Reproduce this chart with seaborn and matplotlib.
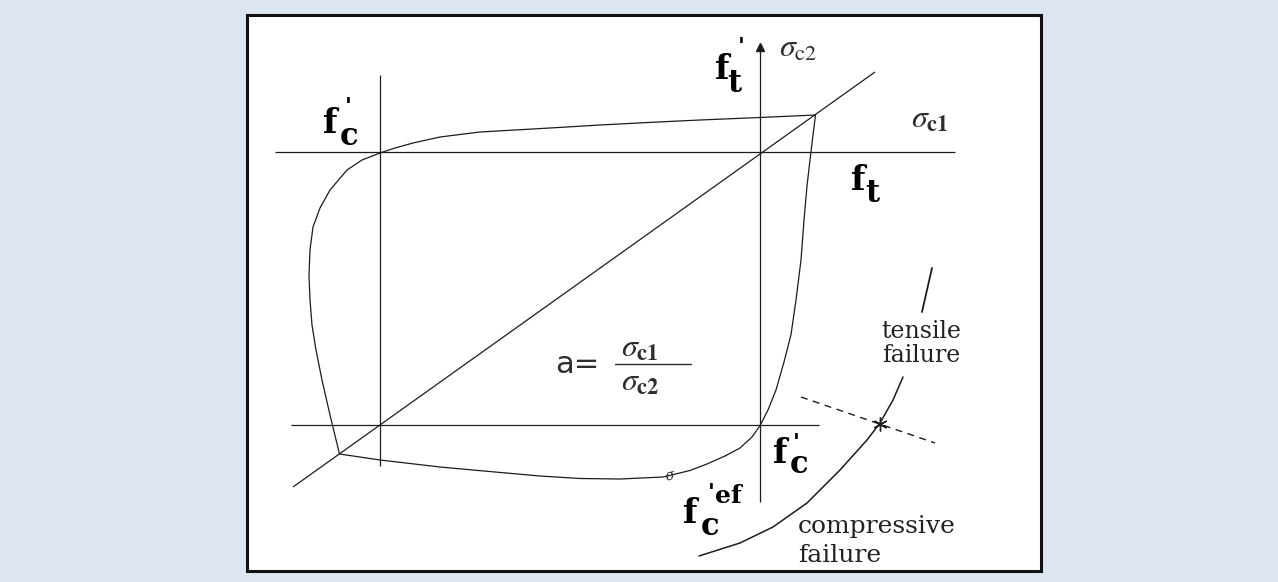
import matplotlib
matplotlib.use("Agg")
import matplotlib.pyplot as plt
import matplotlib.patches as mpatches
import numpy as np
import pandas as pd
import seaborn as sns

# Biaxial failure envelope of concrete (diagram units, y grows downward)
envelope_x = [815.5, 760, 700, 648, 600, 550, 480, 440, 413, 395, 380, 362, 347, 330,
              320, 313, 310, 309, 310, 312, 316, 322, 330, 339.5,
              380, 440, 495, 540, 580, 620, 663, 690, 707, 725, 740, 752, 760,
              768, 776, 784, 791, 796, 801, 804, 807, 810, 813, 815.5]
envelope_y = [115, 117.5, 120, 122.5, 125, 128, 132, 137, 143, 148, 153, 160, 170, 190,
              208, 227, 250, 275, 300, 325, 350, 380, 415, 454,
              460, 467, 472, 476, 478.5, 479, 477, 470.5, 464, 456, 448, 437, 425.6,
              410, 390, 362, 334.6, 300, 260, 220, 186, 160, 135, 115]

# Principal stress axes and reference lines
sigma2_axis_x = [760, 760]
sigma2_axis_y = [50, 502]
sigma1_axis_x = [275, 955]
sigma1_axis_y = [152, 152]
fc_vertical_x = [380, 380]
fc_vertical_y = [75, 466]
fc_horizontal_x = [291, 819]
fc_horizontal_y = [425, 425]
ratio_line_x = [293, 875]
ratio_line_y = [487, 72]

# Failure-mode boundary arc and its normal
arc_low_x = [699, 740, 773, 807, 840, 867, 880, 893, 903]
arc_low_y = [556, 543, 527, 503, 470, 440, 423, 400, 377]
arc_high_x = [922, 932]
arc_high_y = [312, 268]
normal_x = [801, 935]
normal_y = [397, 443]
crossing_x = [880]
crossing_y = [424]

sns.set_theme(style="white")
plt.rcParams["mathtext.fontset"] = "stix"

fig = plt.figure(figsize=(12.78, 5.82), dpi=100, facecolor="#dde5f0")
ax = fig.add_axes([0, 0, 1, 1])
ax.set_xlim(0, 1278)
ax.set_ylim(582, 0)
ax.axis("off")
ax.set_facecolor("none")

panel = mpatches.Rectangle((247, 15), 794, 556, facecolor="white",
                           edgecolor="#111111", linewidth=2.2, zorder=0)
ax.add_patch(panel)

ink = "#1c1c1c"
lw = 0.9

for xs, ys in [(sigma2_axis_x, sigma2_axis_y), (sigma1_axis_x, sigma1_axis_y),
               (fc_vertical_x, fc_vertical_y), (fc_horizontal_x, fc_horizontal_y),
               (ratio_line_x, ratio_line_y)]:
    ax.plot(xs, ys, color=ink, lw=lw, solid_capstyle="butt")

ax.plot(sigma2_axis_x[0], sigma2_axis_y[0] - 3, marker="^", ms=6, color=ink)

env = pd.DataFrame({"s1": envelope_x, "s2": envelope_y})
sns.lineplot(data=env, x="s1", y="s2", sort=False, estimator=None,
             color=ink, lw=lw, ax=ax)

arc_lo = pd.DataFrame({"s1": arc_low_x, "s2": arc_low_y})
arc_hi = pd.DataFrame({"s1": arc_high_x, "s2": arc_high_y})
sns.lineplot(data=arc_lo, x="s1", y="s2", sort=False, estimator=None,
             color=ink, lw=1.1, ax=ax)
sns.lineplot(data=arc_hi, x="s1", y="s2", sort=False, estimator=None,
             color=ink, lw=1.3, ax=ax)
ax.plot(normal_x, normal_y, color=ink, lw=1.0, ls=(0, (5, 4)))
ax.plot(crossing_x, crossing_y, marker=(6, 2, 0), ms=10, color=ink, mew=1.0)

ax.set_xlim(0, 1278)
ax.set_ylim(582, 0)

# Strength labels
bold = dict(family="DejaVu Serif", weight="bold", color="black")
fs = 24


def strength(x, y, sub, dx_sub, dy_sub, prime=None, sup=None):
    ax.text(x, y, "f", fontsize=fs, ha="left", va="baseline", **bold)
    ax.text(x + dx_sub, y + dy_sub, sub, fontsize=fs - 2, ha="left",
            va="baseline", **bold)
    if prime is not None:
        ax.text(x + prime[0], y + prime[1], "'", fontsize=16, ha="left",
                va="baseline", **bold)
    if sup is not None:
        ax.text(x + sup[0], y + sup[1], sup[2], fontsize=18, ha="left",
                va="baseline", **bold)


strength(715, 79, "t", 12, 13, prime=(23, -26))
strength(323, 133, "c", 17, 12, prime=(22, -20))
strength(851, 190, "t", 14, 12)
strength(773, 463, "c", 17, 10, prime=(20, -14))
strength(683, 523, "c", 18, 12, prime=(25, -24), sup=(32, -20, "ef"))

grey = "#2e2e2e"
ax.text(779, 57, r"$\sigma_{\mathrm{c2}}$", fontsize=23, color=grey,
        ha="left", va="baseline")
ax.text(911, 128, r"$\sigma_{\mathbf{c1}}$", fontsize=23, color=grey,
        ha="left", va="baseline")

# a = sigma_c1 / sigma_c2
ax.text(555, 373, "a=", fontsize=22, color=grey, family="DejaVu Sans",
        ha="left", va="baseline")
ax.plot([615, 691], [363.5, 363.5], color=grey, lw=1.0)
ax.text(621, 357, r"$\sigma_{\mathbf{c1}}$", fontsize=23, color=grey,
        ha="left", va="baseline")
ax.text(621, 391, r"$\sigma_{\mathbf{c2}}$", fontsize=23, color=grey,
        ha="left", va="baseline")

ax.text(670, 476, "σ", fontsize=10, style="italic", color=grey,
        ha="center", va="center", rotation=15, family="DejaVu Serif")

serif = dict(family="DejaVu Serif", color="#222222", va="baseline")
ax.text(921, 338, "tensile", ha="center", fontsize=17, **serif)
ax.text(921, 362, "failure", ha="center", fontsize=17, **serif)
ax.text(798, 533, "compressive", ha="left", fontsize=18, **serif)
ax.text(798, 562, "failure", ha="left", fontsize=18, **serif)

fig.savefig("out.png", dpi=100, facecolor=fig.get_facecolor())
